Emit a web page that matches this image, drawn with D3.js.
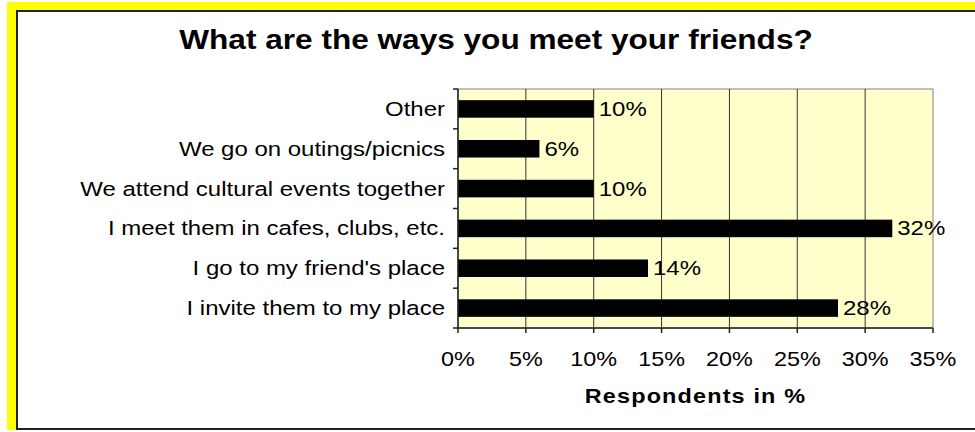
<!DOCTYPE html>
<html>
<head>
<meta charset="utf-8">
<script src="https://cdn.jsdelivr.net/npm/d3@7"></script>
<style>
    body { margin: 0; background: #fff; }
    text { font-family: "Liberation Sans", Arial, sans-serif; fill: #000; }
</style>
</head>
<body>
<div class="container"></div>
<script>
// chart data
var categories = ["Other", "We go on outings/picnics", "We attend cultural events together",
    "I meet them in cafes, clubs, etc.", "I go to my friend's place", "I invite them to my place"];
var values = [10, 6, 10, 32, 14, 28];
var xTicks = [0, 5, 10, 15, 20, 25, 30, 35];
var chartTitle = "What are the ways you meet your friends?";
var xTitle = "Respondents in %";

var width = 975;
var height = 432;
var plotLeft = 458, plotRight = 933, plotTop = 89, plotBottom = 328;
// the picture is a bit stretched sideways, so text is too
var stretch = 1.17;

var svg = d3.select(".container")
    .append("svg")
    .attr("width", width)
    .attr("height", height);

// yellow frame + white chart area
svg.append("rect").attr("x", 7).attr("y", 2).attr("width", 980).attr("height", 428).attr("fill", "#ffff00");
svg.append("rect").attr("x", 17).attr("y", 11).attr("width", 980).attr("height", 418)
    .attr("fill", "#fff").attr("stroke", "#222").attr("stroke-width", 2);

function addText(x, y, str, size, anchor, weight) {
    return svg.append("text")
        .attr("transform", "translate(" + x + "," + y + ") scale(" + stretch + ",1)")
        .attr("text-anchor", anchor)
        .attr("font-size", size)
        .attr("font-weight", weight || "normal")
        .text(str);
}

var x = d3.scaleLinear().domain([0, 35]).range([plotLeft, plotRight]);
var y = d3.scaleBand().domain(categories).range([plotTop, plotBottom]).paddingInner(0.56).paddingOuter(0.28);

// plot area
svg.append("rect")
    .attr("x", plotLeft).attr("y", plotTop)
    .attr("width", plotRight - plotLeft).attr("height", plotBottom - plotTop)
    .attr("fill", "#ffffcc").attr("stroke", "#808080").attr("stroke-width", 1);

// vertical gridlines
svg.selectAll(".grid")
    .data(xTicks.slice(1, -1))
    .enter()
    .append("line")
    .attr("class", "grid")
    .attr("x1", d => x(d)).attr("x2", d => x(d))
    .attr("y1", plotTop).attr("y2", plotBottom)
    .attr("stroke", "#333").attr("stroke-width", 1);

// bars
svg.selectAll(".bar")
    .data(values)
    .enter()
    .append("rect")
    .attr("class", "bar")
    .attr("x", plotLeft)
    .attr("y", (d, i) => y(categories[i]))
    .attr("width", d => x(d) - plotLeft)
    .attr("height", y.bandwidth())
    .attr("fill", "#000");

// value labels
values.forEach(function(v, i) {
    addText(x(v) + 5, y(categories[i]) + y.bandwidth() / 2 + 7, v + "%", 20.5, "start");
});

// y axis line and ticks
svg.append("line").attr("x1", plotLeft).attr("x2", plotLeft).attr("y1", plotTop).attr("y2", plotBottom)
    .attr("stroke", "#222").attr("stroke-width", 1.5);
var step = (plotBottom - plotTop) / categories.length;
svg.selectAll(".ytick")
    .data(d3.range(categories.length + 1))
    .enter()
    .append("line")
    .attr("x1", plotLeft - 5).attr("x2", plotLeft)
    .attr("y1", d => plotTop + d * step).attr("y2", d => plotTop + d * step)
    .attr("stroke", "#222").attr("stroke-width", 1.5);

categories.forEach(function(c) {
    addText(plotLeft - 13, y(c) + y.bandwidth() / 2 + 7, c, 20.5, "end");
});

// x axis line and ticks
svg.append("line").attr("x1", plotLeft).attr("x2", plotRight).attr("y1", plotBottom).attr("y2", plotBottom)
    .attr("stroke", "#222").attr("stroke-width", 1.5);
svg.selectAll(".xtick")
    .data(xTicks)
    .enter()
    .append("line")
    .attr("x1", d => x(d)).attr("x2", d => x(d))
    .attr("y1", plotBottom).attr("y2", plotBottom + 5)
    .attr("stroke", "#222").attr("stroke-width", 1.5);

xTicks.forEach(function(t) {
    addText(x(t), 366, t + "%", 20, "middle");
});

// titles
addText((plotLeft + plotRight) / 2, 403, xTitle, 20, "middle", "bold").attr("letter-spacing", 1);
addText(496, 49, chartTitle, 27, "middle", "bold");
</script>
</body>
</html>
